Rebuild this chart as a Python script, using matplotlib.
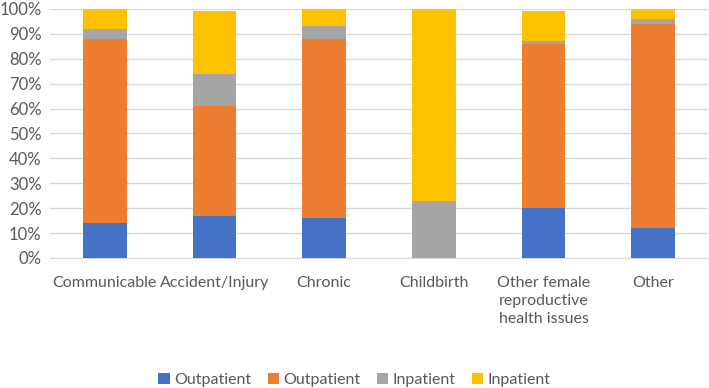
import numpy as np
import matplotlib.pyplot as plt
from matplotlib.ticker import PercentFormatter

categories = ["Communicable", "Accident/Injury", "Chronic", "Childbirth",
              "Other female\nreproductive\nhealth issues", "Other"]
series_names = ["Outpatient", "Outpatient", "Inpatient", "Inpatient"]
out_blue = [14, 17, 16, 0, 20, 12]
out_orange = [74, 44, 72, 0, 66, 82]
in_gray = [4, 13, 5, 23, 1, 2]
in_yellow = [8, 25, 7, 77, 12, 4]
colors = ["#4472C4", "#ED7D31", "#A5A5A5", "#FFC000"]

plt.rcParams['font.family'] = ['Lato', 'DejaVu Sans']

fig = plt.figure(figsize=(7.09, 3.88), dpi=100)
ax = fig.add_axes([50 / 709, 130 / 388, 658 / 709, 249 / 388])

x = np.arange(len(categories))
bottom = np.zeros(len(categories))
for vals, name, c in zip([out_blue, out_orange, in_gray, in_yellow], series_names, colors):
    ax.bar(x, vals, width=0.4, bottom=bottom, color=c, label=name, zorder=3)
    bottom += np.array(vals)

ax.set_ylim(0, 100)
ax.set_xlim(-0.5, len(categories) - 0.5)
ax.set_yticks(np.arange(0, 101, 10))
ax.yaxis.set_major_formatter(PercentFormatter(decimals=0))
ax.set_xticks(x)
ax.set_xticklabels(categories, va='top', linespacing=1.35)
ax.grid(axis='y', color='#D9D9D9', linewidth=1, zorder=0)
for s in ax.spines.values():
    s.set_visible(False)
ax.spines['bottom'].set_visible(True)
ax.spines['bottom'].set_color('#D9D9D9')
ax.tick_params(axis='both', length=0, colors='#595959', labelsize=11.5)
ax.tick_params(axis='y', labelsize=12, pad=6)
ax.tick_params(axis='x', pad=13)

fig.legend(loc='center', ncol=4, frameon=False, bbox_to_anchor=(0.5, 8 / 388),
           fontsize=11.5, handlelength=0.7, handleheight=0.7, handletextpad=0.3,
           columnspacing=1.0, labelcolor='#595959')

fig.savefig("out.png", dpi=100)
